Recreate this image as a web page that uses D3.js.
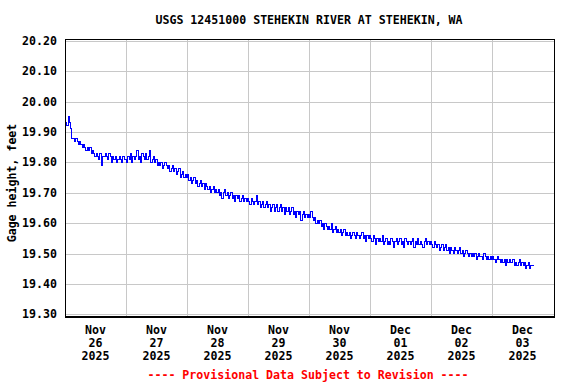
<!DOCTYPE html>
<html>
<head>
<meta charset="utf-8">
<script src="https://cdn.jsdelivr.net/npm/d3@7"></script>
<style>
  body { margin: 0; background: #fff; }
  text { font-family: "DejaVu Sans Mono", monospace; font-weight: bold; font-size: 11.6px; }
</style>
</head>
<body>
<div id="chart"></div>
<script>
var WIDTH = 576, HEIGHT = 384;

// gage height, feet, every 30 minutes starting at midnight of each day
var nov26 = [19.92,19.93,19.92,19.95,19.93,19.91,19.88,19.88, 19.87,19.88,19.87,19.86,19.87,19.86,19.85,19.86,
             19.85,19.84,19.85,19.84,19.85,19.83,19.84,19.83, 19.82,19.83,19.82,19.81,19.83,19.79,19.82,19.82,
             19.83,19.82,19.81,19.83,19.82,19.80,19.82,19.81, 19.82,19.80,19.81,19.82,19.81,19.80,19.82,19.81];
var nov27 = [19.81,19.80,19.82,19.81,19.83,19.80,19.82,19.81, 19.82,19.84,19.81,19.82,19.80,19.83,19.82,19.81,
             19.83,19.81,19.82,19.84,19.80,19.81,19.82,19.80, 19.81,19.79,19.80,19.79,19.80,19.78,19.79,19.80,
             19.79,19.78,19.79,19.77,19.78,19.79,19.77,19.78, 19.76,19.77,19.78,19.75,19.76,19.77,19.75,19.76];
var nov28 = [19.75,19.76,19.74,19.75,19.73,19.74,19.75,19.73, 19.74,19.72,19.73,19.74,19.72,19.73,19.71,19.73,
             19.72,19.71,19.72,19.70,19.71,19.72,19.70,19.71, 19.70,19.71,19.69,19.70,19.68,19.70,19.71,19.69,
             19.70,19.68,19.69,19.70,19.68,19.69,19.67,19.69, 19.68,19.69,19.67,19.68,19.69,19.67,19.68,19.67];
var nov29 = [19.68,19.67,19.66,19.68,19.67,19.66,19.67,19.69, 19.66,19.67,19.65,19.66,19.67,19.65,19.66,19.67,
             19.65,19.66,19.64,19.65,19.66,19.64,19.65,19.66, 19.64,19.65,19.66,19.64,19.65,19.63,19.65,19.64,
             19.65,19.63,19.64,19.65,19.63,19.64,19.62,19.64, 19.63,19.64,19.61,19.63,19.64,19.62,19.63,19.62];
var nov30 = [19.63,19.62,19.64,19.62,19.61,19.62,19.60,19.61, 19.60,19.61,19.59,19.60,19.58,19.60,19.59,19.58,
             19.59,19.58,19.60,19.57,19.58,19.59,19.57,19.58, 19.57,19.58,19.56,19.57,19.58,19.56,19.57,19.56,
             19.57,19.55,19.56,19.57,19.56,19.55,19.57,19.56, 19.55,19.56,19.57,19.55,19.56,19.54,19.56,19.55];
var dec01 = [19.56,19.55,19.54,19.56,19.55,19.53,19.55,19.54, 19.55,19.54,19.56,19.53,19.54,19.55,19.53,19.54,
             19.53,19.55,19.54,19.52,19.54,19.55,19.53,19.54, 19.55,19.53,19.54,19.52,19.55,19.54,19.53,19.54,
             19.53,19.54,19.55,19.52,19.54,19.53,19.55,19.53, 19.54,19.53,19.52,19.54,19.55,19.53,19.54,19.53];
var dec02 = [19.54,19.53,19.52,19.54,19.53,19.52,19.53,19.51, 19.52,19.53,19.51,19.52,19.53,19.51,19.52,19.50,
             19.52,19.51,19.50,19.52,19.51,19.50,19.51,19.52, 19.50,19.51,19.49,19.50,19.51,19.50,19.49,19.50,
             19.49,19.50,19.49,19.50,19.48,19.49,19.50,19.49, 19.49,19.48,19.50,19.49,19.48,19.49,19.48,19.49];
var dec03 = [19.48,19.49,19.48,19.47,19.48,19.49,19.48,19.47, 19.48,19.47,19.48,19.46,19.48,19.47,19.48,19.47,
             19.47,19.48,19.46,19.47,19.46,19.47,19.48,19.46, 19.47,19.46,19.47,19.45,19.46,19.47,19.45,19.46,
             19.46,19.46];

var days = [nov26, nov27, nov28, nov29, nov30, dec01, dec02, dec03];
var dayStarts = [Date.UTC(2025,10,26), Date.UTC(2025,10,27), Date.UTC(2025,10,28), Date.UTC(2025,10,29),
                 Date.UTC(2025,10,30), Date.UTC(2025,11,1), Date.UTC(2025,11,2), Date.UTC(2025,11,3)];
var yTicks = [19.30, 19.40, 19.50, 19.60, 19.70, 19.80, 19.90, 20.00, 20.10, 20.20];
var xLabels = [["Nov","26","2025"],["Nov","27","2025"],["Nov","28","2025"],["Nov","29","2025"],
               ["Nov","30","2025"],["Dec","01","2025"],["Dec","02","2025"],["Dec","03","2025"]];

var series = [];
days.forEach((vals, i) => {
    vals.forEach((v, j) => series.push({t: new Date(dayStarts[i] + j * 30 * 60000), v: v}));
});

var LEFT = 65, RIGHT = 554, TOP = 39, BOTTOM = 316;

const svg = d3.select("#chart").append("svg").attr("width", WIDTH).attr("height", HEIGHT)

const x_scale = d3.scaleUtc().domain([new Date(Date.UTC(2025,10,26)), new Date(Date.UTC(2025,11,4))]).range([LEFT, 553])
const y_scale = d3.scaleLinear().domain([19.30, 20.20]).range([314.3, 40.9])

// grid
const grid = svg.append("g").attr("stroke", "#c8c8c8").attr("stroke-width", 1).attr("shape-rendering", "crispEdges")
grid.selectAll("line.h").data(yTicks).enter().append("line").attr("class", "h")
    .attr("x1", LEFT).attr("x2", RIGHT).attr("y1", d => Math.round(y_scale(d)) + 0.5).attr("y2", d => Math.round(y_scale(d)) + 0.5)
grid.selectAll("line.v").data(dayStarts.slice(1)).enter().append("line").attr("class", "v")
    .attr("y1", TOP).attr("y2", BOTTOM).attr("x1", d => Math.round(x_scale(new Date(d))) + 0.5).attr("x2", d => Math.round(x_scale(new Date(d))) + 0.5)

// data line, drawn in steps like the gage plot
const line = d3.line().curve(d3.curveStep).x(d => x_scale(d.t)).y(d => y_scale(d.v))
svg.append("path").datum(series).attr("d", line).attr("fill", "none").attr("stroke", "#0000ff")
    .attr("stroke-width", 1).attr("shape-rendering", "crispEdges")

// frame
svg.append("rect").attr("x", LEFT + 0.5).attr("y", TOP + 0.5).attr("width", RIGHT - LEFT).attr("height", BOTTOM - TOP)
    .attr("fill", "none").attr("stroke", "#000").attr("stroke-width", 1).attr("shape-rendering", "crispEdges")
svg.append("line").attr("x1", LEFT).attr("x2", RIGHT + 1).attr("y1", BOTTOM + 0.5).attr("y2", BOTTOM + 0.5)
    .attr("stroke", "#000").attr("stroke-width", 2).attr("shape-rendering", "crispEdges")

// y tick labels
svg.selectAll("text.ytick").data(yTicks).enter().append("text").attr("class", "ytick")
    .attr("x", 57).attr("y", d => y_scale(d)).attr("dy", "0.35em").attr("text-anchor", "end")
    .text(d => d3.format(".2f")(d))

// x tick labels, three lines centred on noon
xLabels.forEach((lab, i) => {
    const cx = x_scale(new Date(dayStarts[i] + 12 * 3600000))
    lab.forEach((s, k) => {
        svg.append("text").attr("x", cx).attr("y", 334 + k * 13).attr("text-anchor", "middle").text(s)
    })
})

// titles
svg.append("text").attr("x", 309).attr("y", 24).attr("text-anchor", "middle").text("USGS 12451000 STEHEKIN RIVER AT STEHEKIN, WA")
svg.append("text").attr("transform", "translate(16,183) rotate(-90)").attr("text-anchor", "middle").text("Gage height, feet")
svg.append("text").attr("x", 308).attr("y", 379).attr("text-anchor", "middle").attr("fill", "#ff0000")
    .text("---- Provisional Data Subject to Revision ----")
</script>
</body>
</html>
